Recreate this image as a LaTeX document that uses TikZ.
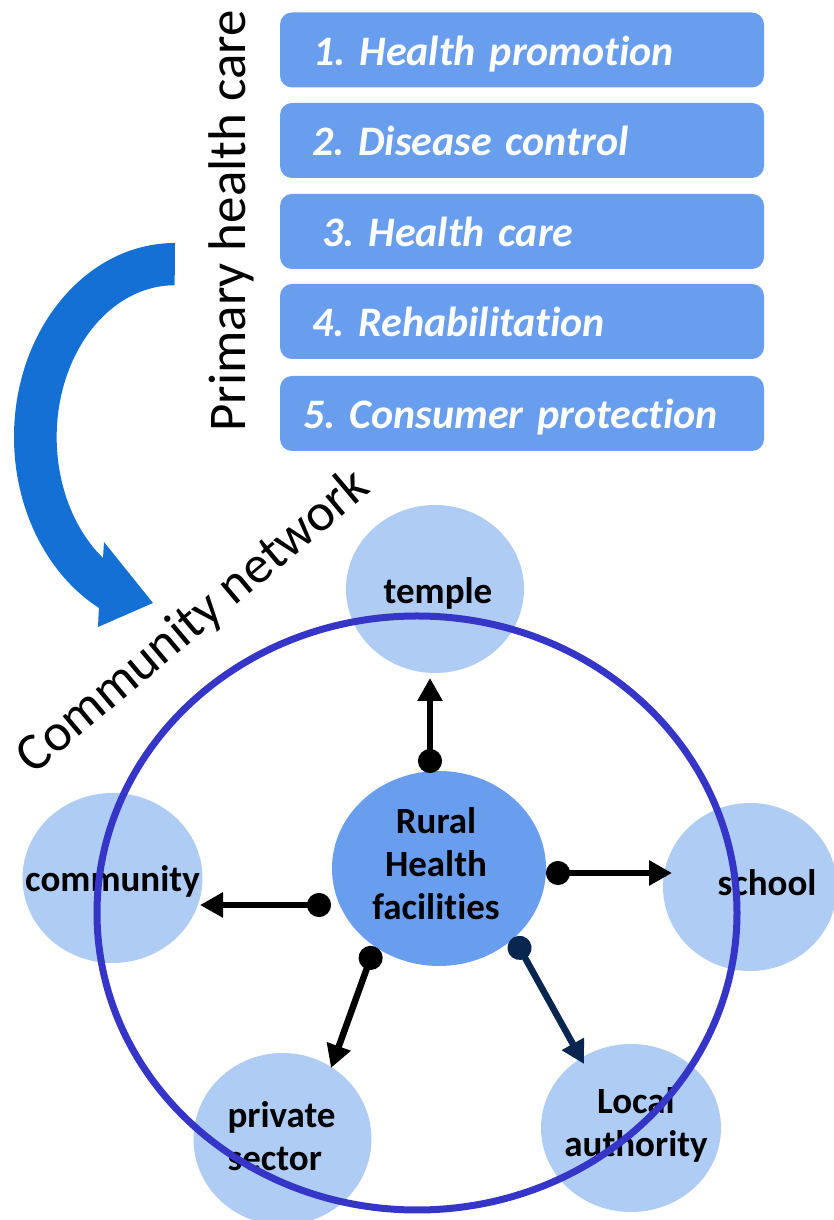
\documentclass[tikz,border=0pt]{standalone}
\usepackage{fontspec}
\setmainfont{Carlito}[Ligatures={NoCommon,NoDiscretionary,NoContextual}]
\frenchspacing
\usetikzlibrary{shapes.geometric,arrows.meta,calc}
\definecolor{boxblue}{RGB}{104,158,237}
\definecolor{ballblue}{RGB}{175,204,245}
\definecolor{arcblue}{RGB}{20,112,212}
\definecolor{ringblue}{RGB}{53,53,200}
\definecolor{navy}{RGB}{8,38,80}
\begin{document}
\begin{tikzpicture}[x=1pt,y=1pt,
  stepbox/.style={rectangle, rounded corners=12pt, fill=boxblue,
    minimum width=484pt, minimum height=75pt, inner xsep=0pt, inner ysep=0pt,
    text=white, font=\fontsize{42}{48}\selectfont\bfseries\itshape,
    align=left, text height=33pt, text depth=2pt},
  ball/.style={ellipse, fill=ballblue, inner sep=0pt, outer sep=0pt},
  hub/.style={ellipse, fill=boxblue, inner sep=0pt, outer sep=0pt},
  balltext/.style={font=\fontsize{37}{43}\selectfont\bfseries, align=center,
    inner sep=0pt, text=black},
  biglabel/.style={font=\fontsize{53}{60}\selectfont, inner sep=0pt, anchor=base},
  link/.style={line width=6.5pt,
    {Circle[length=24pt]}-{Triangle[length=23pt,width=24pt]}},
  ring/.style={draw=ringblue, line width=7pt}
]
\useasboundingbox (0,0) rectangle (833,1220);

% the five primary health care activities
\node[stepbox, text width=418pt] (b1) at (522,1170)   {1. Health promotion};
\node[stepbox, text width=420pt] (b2) at (522,1079.5) {2. Disease control};
\node[stepbox, text width=400pt] (b3) at (522,988.5)  {3. Health care};
\node[stepbox, text width=420pt] (b4) at (522,898.5)  {4. Rehabilitation};
\node[stepbox, text width=438pt] (b5) at (522,806.5)  {5. Consumer protection};

% side titles
\node[biglabel, rotate=90] (phc) at (245,999) {Primary health care};
\node[biglabel, rotate=40] (cn) at (203,587) {Community network};

% broad curved arrow from the activities down to the network
\fill[arcblue] (175,977) arc[start angle=90, end angle=241.8, x radius=161, y radius=194]
  -- (98,593) -- (153,617) -- (104,678) -- (103,662)
  arc[start angle=232.6, end angle=90, x radius=118, y radius=152] -- cycle;

% hub and partners
\node[hub, minimum width=214pt, minimum height=195pt,
  label={[balltext, xshift=-3pt, yshift=5pt]center:{Rural\\Health\\facilities}}]
  (rhf) at (439,351.5) {};
\node[ball, minimum width=178pt, minimum height=168pt,
  label={[balltext, xshift=3pt, yshift=-4pt]center:temple}] (temple) at (435,631) {};
\node[ball, minimum width=180pt, minimum height=170pt,
  label={[balltext, yshift=-3pt]center:community}] (community) at (112.5,342) {};
\node[ball, minimum width=174pt, minimum height=168pt,
  label={[balltext, xshift=17pt, yshift=4pt]center:school}] (school) at (750,333) {};
\node[ball, minimum width=178pt, minimum height=172pt,
  label={[balltext, align=left, xshift=-1pt, yshift=2.5pt]center:{private\\sector}}]
  (private) at (282.5,81) {};
\node[ball, minimum width=180pt, minimum height=168pt,
  label={[balltext, xshift=5pt, yshift=3pt]center:{Local\\authority}}] (local) at (631,92) {};

% community boundary
\draw[ring] (417,307) ellipse [x radius=320, y radius=297];

% links from the hub
\draw[link] ($(rhf)+(-9,95.5)$) -- ($(temple)+(-5,-89)$);
\draw[link] ($(rhf)+(107,-4.5)$) -- ($(school)+(-78,14)$);
\draw[link] ($(rhf)+(-108,-36.5)$) -- ($(community)+(87.5,-27)$);
\draw[link] ($(rhf)+(-64.3,-78.1)$) -- ($(private)+(48.5,71)$);
\draw[link, navy] ($(rhf)+(74.7,-68.9)$) -- ($(local)+(-47,64)$);
\end{tikzpicture}
\end{document}
